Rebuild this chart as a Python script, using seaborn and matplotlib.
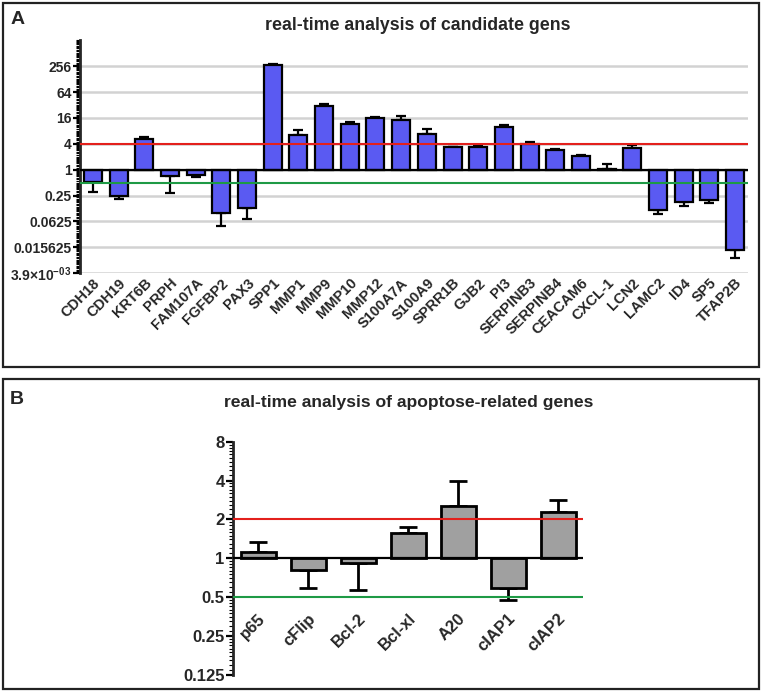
import numpy as np
import pandas as pd
import seaborn as sns
import matplotlib.pyplot as plt
from matplotlib.patches import Rectangle

# Panel A - candidate genes: mean fold change and the tip of the one-sided error bar
genes_a = ['CDH18', 'CDH19', 'KRT6B', 'PRPH', 'FAM107A', 'FGFBP2', 'PAX3', 'SPP1', 'MMP1',
           'MMP9', 'MMP10', 'MMP12', 'S100A7A', 'S100A9', 'SPRR1B', 'GJB2', 'PI3', 'SERPINB3',
           'SERPINB4', 'CEACAM6', 'CXCL-1', 'LCN2', 'LAMC2', 'ID4', 'SP5', 'TFAP2B']
fold_a = [0.51, 0.24, 5.1, 0.73, 0.77, 0.099, 0.13, 280, 6.5, 30, 11.6, 15.7, 14.4, 6.8,
          3.35, 3.35, 9.7, 4.0, 2.8, 2.1, 1.02, 3.2, 0.113, 0.178, 0.195, 0.0136]
err_a = [0.30, 0.21, 5.9, 0.29, 0.68, 0.050, 0.072, 295, 8.4, 33, 12.7, 16.6, 18, 8.8,
         3.45, 3.66, 10.8, 4.4, 2.95, 2.2, 1.35, 3.66, 0.094, 0.141, 0.164, 0.009]
yticks_a = [2**-8, 2**-6, 2**-4, 2**-2, 1, 4, 16, 64, 256]
ylabels_a = [r'3.9$\times$10$^{-03}$', '0.015625', '0.0625', '0.25', '1', '4', '16', '64', '256']

# Panel B - apoptosis related genes
genes_b = ['p65', 'cFlip', 'Bcl-2', 'Bcl-xl', 'A20', 'cIAP1', 'cIAP2']
fold_b = [1.11, 0.81, 0.915, 1.56, 2.53, 0.59, 2.29]
err_b = [1.33, 0.59, 0.57, 1.74, 3.95, 0.48, 2.82]
yticks_b = [0.125, 0.25, 0.5, 1, 2, 4, 8]
ylabels_b = ['0.125', '0.25', '0.5', '1', '2', '4', '8']

# thresholds (up / down regulated)
thr_a = (4, 0.5)
thr_b = (2, 0.5)

sns.set_style('white')
plt.rcParams['font.family'] = ['Liberation Sans', 'DejaVu Sans']
plt.rcParams['font.weight'] = 'bold'
plt.rcParams['mathtext.fontset'] = 'custom'
plt.rcParams['mathtext.rm'] = 'Liberation Sans:bold'
plt.rcParams['mathtext.default'] = 'rm'


def draw_panel(ax, genes, fold, err, yticks, ylabels, thr, ylim, color, lw, capsize, fs, xfs,
               grid, xaxis_at=None):
    # log2 fold change, bars start at 1 (= 0 on log2 scale)
    df = pd.DataFrame({'gene': genes, 'log2fc': np.log2(fold)})
    sns.barplot(data=df, x='gene', y='log2fc', color=color, saturation=1, width=0.7,
                edgecolor='black', linewidth=lw, zorder=3, ax=ax)
    d = np.log2(err) - df['log2fc'].values
    ax.errorbar(np.arange(len(genes)), df['log2fc'], yerr=[np.clip(-d, 0, None), np.clip(d, 0, None)],
                fmt='none', ecolor='black', elinewidth=lw, capsize=capsize, capthick=lw, zorder=2.5)
    ax.axhline(0, color='black', lw=1.6, zorder=4)
    ax.axhline(np.log2(thr[0]), color='#e3201c', lw=1.5, zorder=4)
    ax.axhline(np.log2(thr[1]), color='#1e9a45', lw=1.5, zorder=4)

    ax.set_xlim(-0.5, len(genes) - 0.5)
    ax.set_ylim(*ylim)
    if xaxis_at is not None:
        ax.spines['bottom'].set_position(('data', xaxis_at))
    for s in ['top', 'right', 'bottom']:
        ax.spines[s].set_visible(False)
    ax.spines['left'].set_linewidth(2)

    major = np.log2(yticks)
    ax.set_yticks(major)
    ax.set_yticklabels(ylabels, fontsize=fs, fontweight='bold')
    minor = [k + np.log2(1 + j / 10) for k in range(ylim[0], ylim[1]) for j in range(1, 10)]
    minor += [k for k in range(ylim[0], ylim[1] + 1) if k not in major]
    ax.set_yticks(minor, minor=True)
    ax.tick_params(axis='y', which='both', left=True, color='black')
    ax.tick_params(axis='y', which='major', length=5, width=1.6, pad=1)
    ax.tick_params(axis='y', which='minor', length=3, width=0.8)
    ax.tick_params(axis='x', length=0, pad=2)
    ax.set_xticks(range(len(genes)))
    ax.set_xticklabels(genes, rotation=45, ha='right', rotation_mode='anchor',
                       fontsize=xfs, fontweight='bold')
    ax.set_xlabel('')
    ax.set_ylabel('')
    if grid:
        ax.yaxis.grid(True, which='major', color='#d2d2d2', lw=1.8)
        ax.set_axisbelow(True)


fig = plt.figure(figsize=(7.64, 6.95), dpi=100)

ax_a = fig.add_axes([0.1047, 0.607, 0.8743, 0.335])
draw_panel(ax_a, genes_a, fold_a, err_a, yticks_a, ylabels_a, thr_a, (-8, 10),
           '#5a5af2', 1.6, 3.5, 10, 10.5, True)

# x labels of panel B sit just under the 0.5 line
ax_b = fig.add_axes([0.305, 0.0288, 0.4581, 0.3357])
draw_panel(ax_b, genes_b, fold_b, err_b, yticks_b, ylabels_b, thr_b, (-3, 3),
           '#a0a0a0', 2.0, 6.5, 12, 12, False, xaxis_at=np.log2(0.41))

# panel frames, letters and titles
for y0, h in [(1 - 367 / 695, 364 / 695), (1 - 689 / 695, 310 / 695)]:
    fig.add_artist(Rectangle((3 / 764, y0), 756 / 764, h, transform=fig.transFigure,
                             fill=False, lw=1.6, ec='#222222'))
fig.text(18 / 764, 1 - 20 / 695, 'A', fontsize=14, fontweight='bold', ha='center', va='center')
fig.text(17 / 764, 1 - 399 / 695, 'B', fontsize=14, fontweight='bold', ha='center', va='center')
fig.text(418 / 764, 1 - 25 / 695, 'real-time analysis of candidate gens',
         fontsize=12.8, fontweight='bold', ha='center', va='center')
fig.text(409 / 764, 1 - 403 / 695, 'real-time analysis of apoptose-related genes',
         fontsize=12.6, fontweight='bold', ha='center', va='center')

fig.savefig('out.png', dpi=100)
